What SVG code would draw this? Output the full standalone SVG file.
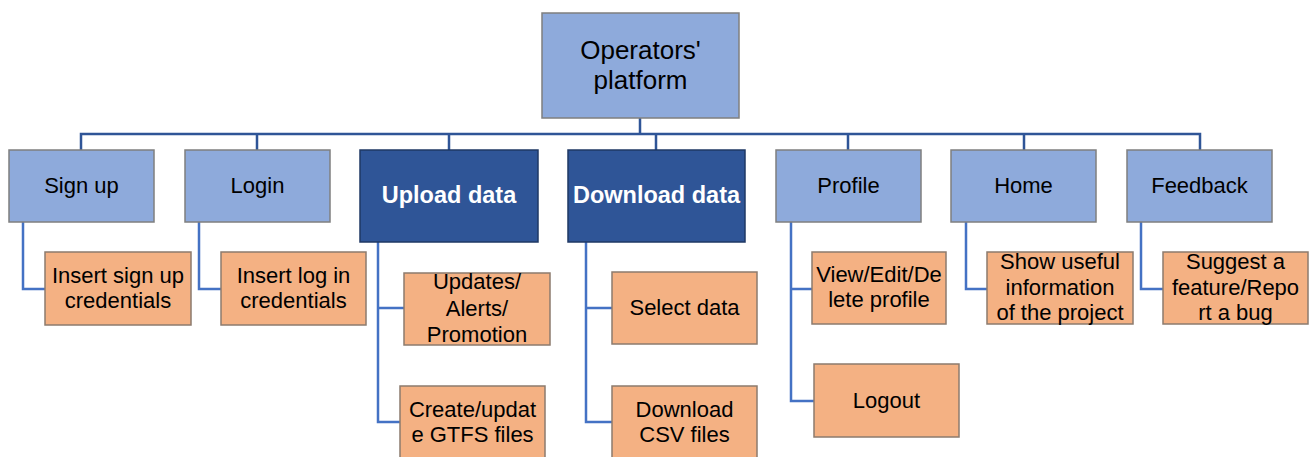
<svg xmlns="http://www.w3.org/2000/svg" width="1311" height="457" viewBox="0 0 1311 457">
<style>
.lb{fill:#8eaadb;stroke:#7f7f7f;stroke-width:1.5}
.db{fill:#2f5597;stroke:#1f3864;stroke-width:1.5}
.or{fill:#f4b183;stroke:#8c7b6e;stroke-width:1.5}
text{font-family:"Liberation Sans",Arial,sans-serif;font-size:22px;fill:#000;text-anchor:middle}
.root{font-size:26px}
.bold{font-weight:bold;font-size:23.5px;fill:#fff}
.bus{fill:none;stroke:#2f5597;stroke-width:2.5}
.ch{fill:none;stroke:#4472c4;stroke-width:2.5}
</style>
<rect width="1311" height="457" fill="#fff"/>
<g id="connectors">
<path class="bus" d="M640 118V134M81 150V134H1200V150M257 134V150M449 134V150M656 134V150M848 134V150M1024 134V150"/>
<path class="ch" d="M23 222V289H45"/>
<path class="ch" d="M199 222V289H221"/>
<path class="ch" d="M378 242V422H400M378 308H404"/>
<path class="ch" d="M586 242V422H612M586 308H612"/>
<path class="ch" d="M791 222V401H814M791 289H812"/>
<path class="ch" d="M966 222V289H987"/>
<path class="ch" d="M1141 222V289H1163"/>
</g>
<g id="root"><rect class="lb" x="542" y="13" width="197" height="105"/><text class="root" x="640.5" y="58.5">Operators'</text><text class="root" x="640.5" y="89">platform</text></g>
<g id="signup"><rect class="lb" x="9" y="150" width="145" height="72"/><text x="81.5" y="193">Sign up</text></g>
<g id="login"><rect class="lb" x="185" y="150" width="145" height="72"/><text x="257.5" y="193">Login</text></g>
<g id="upload"><rect class="db" x="360" y="150" width="178" height="92"/><text class="bold" x="449" y="203">Upload data</text></g>
<g id="download"><rect class="db" x="568" y="150" width="177" height="92"/><text class="bold" x="656.5" y="203">Download data</text></g>
<g id="profile"><rect class="lb" x="776" y="150" width="145" height="72"/><text x="848.5" y="193">Profile</text></g>
<g id="home"><rect class="lb" x="951" y="150" width="145" height="72"/><text x="1023.5" y="193">Home</text></g>
<g id="feedback"><rect class="lb" x="1127" y="150" width="145" height="72"/><text x="1199.5" y="193">Feedback</text></g>
<g id="signup-cred"><rect class="or" x="45" y="252" width="146" height="73"/><text x="118" y="282.5">Insert sign up</text><text x="118" y="308">credentials</text></g>
<g id="login-cred"><rect class="or" x="221" y="252" width="145" height="73"/><text x="293.5" y="282.5">Insert log in</text><text x="293.5" y="308">credentials</text></g>
<g id="updates"><rect class="or" x="404" y="273" width="146" height="72"/><text x="477" y="289">Updates/</text><text x="477" y="315.5">Alerts/</text><text x="477" y="342">Promotion</text></g>
<g id="gtfs"><rect class="or" x="400" y="386" width="145" height="76"/><text x="472.5" y="416.5">Create/updat</text><text x="472.5" y="442">e GTFS files</text></g>
<g id="select"><rect class="or" x="612" y="272" width="145" height="72"/><text x="684.5" y="315">Select data</text></g>
<g id="csv"><rect class="or" x="612" y="386" width="145" height="76"/><text x="684.5" y="416.5">Download</text><text x="684.5" y="442">CSV files</text></g>
<g id="view-edit"><rect class="or" x="812" y="252" width="134" height="72"/><text x="879" y="281.5">View/Edit/De</text><text x="879" y="307">lete profile</text></g>
<g id="logout"><rect class="or" x="814" y="364" width="145" height="73"/><text x="886.5" y="408">Logout</text></g>
<g id="show-info"><rect class="or" x="987" y="252" width="146" height="72"/><text x="1060" y="268.5">Show useful</text><text x="1060" y="294.5">information</text><text x="1060" y="320">of the project</text></g>
<g id="suggest"><rect class="or" x="1163" y="252" width="145" height="72"/><text x="1235.5" y="268.5">Suggest a</text><text x="1235.5" y="294.5">feature/Repo</text><text x="1235.5" y="320">rt a bug</text></g>
</svg>
